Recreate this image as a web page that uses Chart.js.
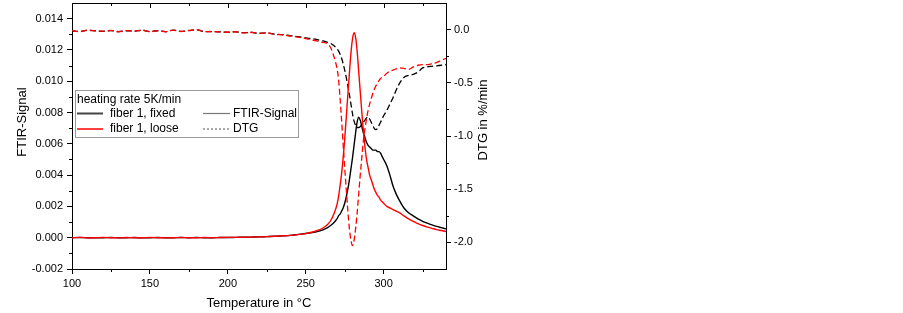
<!DOCTYPE html>
<html>
<head>
<meta charset="utf-8">
<script src="https://cdn.jsdelivr.net/npm/chart.js@4.4.1/dist/chart.umd.min.js"></script>
<style>
body { margin: 0; background: #fff; }
canvas { display: block; }
</style>
</head>
<body>
<canvas id="chart" width="903" height="313"></canvas>
<script>
// temperature in °C
const temperatures = [100,105,110,115,120,125,130,135,140,145,150,155,160,165,170,175,180,185,190,195,200,205,210,215,220,225,230,235,240,245,250,
    255,258,261,264,266,268,
    270,271,272,273,274,275,276,277,278,279,280,281,282,283,284,285,286,287,288,289,290,291,292,293,294,295,296,297,298,299,300,
    302,304,306,308,310,
    313,316,319,322,325,328,331,334,337,340]

// FTIR signal
const ftirFixed = [0,0.00001,0,-0.00001,0,0.00001,0,0,0.00001,-0.00001,0,0.00001,0,0,0.00001,0,0.00001,0,0,0.00001,0.00001,
    0.00002,0.00003,0.00004,0.00005,0.00007,0.00009,0.00012,0.00015,0.00021,0.00027,
    0.00034,0.0004,0.0005,0.00065,0.00078,0.00095,
    0.0012,0.0014,0.0015,0.0017,0.0019,0.0022,0.0026,0.0031,0.0037,0.0044,0.0051,0.0059,0.0067,0.0074,0.0077,0.0075,0.0071,0.0067,0.0064,0.0061,0.0059,0.0058,0.0057,0.0056,0.0056,0.0056,0.0055,0.0055,0.0054,0.0052,0.0050,
    0.0046,0.0040,0.0033,0.0028,0.0024,
    0.0019,0.0016,0.0014,0.0012,0.00105,0.00093,0.00082,0.00072,0.00064,0.00056]

const ftirLoose = [0,0.00002,-0.00001,0,0.00001,0,-0.00001,0.00001,0,0,0.00001,0,-0.00001,0,0.00001,0,0,0.00001,0,0.00001,0.00002,
    0.00002,0.00003,0.00004,0.00005,0.00007,0.00009,0.00012,0.00015,0.0002,0.00026,
    0.00038,0.00048,0.00062,0.00085,0.0011,0.0015,
    0.0021,0.0026,0.0033,0.0041,0.0051,0.0063,0.0077,0.0091,0.0105,0.0118,0.0127,0.0131,0.0128,0.0119,0.0106,0.0093,0.0080,0.0068,0.0058,0.0050,0.0045,0.0040,0.0037,0.0034,0.0031,0.0029,0.0027,0.0026,0.0024,0.0023,0.0022,
    0.0020,0.0019,0.0018,0.0017,0.0016,
    0.0014,0.0012,0.00105,0.0009,0.00078,0.00068,0.0006,0.00052,0.00046,0.0004]

// DTG in %/min
const dtgFixed = [-0.012,-0.018,-0.007,-0.011,-0.016,-0.009,-0.019,-0.011,-0.014,-0.006,-0.019,-0.011,-0.019,-0.005,-0.017,-0.009,-0.002,-0.019,-0.019,-0.021,-0.024,-0.021,-0.029,-0.026,-0.034,-0.031,-0.042,-0.047,-0.057,-0.066,-0.078,
    -0.088,-0.097,-0.107,-0.12,-0.13,-0.15,
    -0.18,-0.2,-0.23,-0.27,-0.32,-0.38,-0.45,-0.53,-0.61,-0.7,-0.79,-0.86,-0.9,-0.92,-0.92,-0.91,-0.89,-0.87,-0.85,-0.83,-0.82,-0.84,-0.87,-0.9,-0.93,-0.94,-0.93,-0.9,-0.87,-0.84,-0.81,
    -0.76,-0.7,-0.64,-0.57,-0.51,
    -0.45,-0.43,-0.42,-0.4,-0.36,-0.35,-0.345,-0.34,-0.335,-0.33]

const dtgLoose = [-0.01,-0.02,-0.005,-0.012,-0.015,-0.008,-0.02,-0.01,-0.015,-0.005,-0.02,-0.01,-0.02,-0.004,-0.018,-0.008,0,-0.02,-0.018,-0.022,-0.025,-0.02,-0.03,-0.025,-0.035,-0.03,-0.045,-0.05,-0.06,-0.07,-0.085,
    -0.1,-0.11,-0.12,-0.13,-0.17,-0.25,
    -0.36,-0.46,-0.64,-0.85,-1.08,-1.3,-1.5,-1.7,-1.87,-1.98,-2.03,-1.98,-1.87,-1.72,-1.54,-1.36,-1.2,-1.04,-0.93,-0.84,-0.76,-0.7,-0.65,-0.6,-0.56,-0.53,-0.5,-0.48,-0.46,-0.45,-0.44,
    -0.41,-0.39,-0.38,-0.37,-0.36,
    -0.365,-0.375,-0.35,-0.335,-0.33,-0.33,-0.32,-0.31,-0.29,-0.27]

const xTicks = [100, 150, 200, 250, 300]
const xMinorTicks = [125, 175, 225, 275, 325]
const ftirTicks = [-0.002, 0, 0.002, 0.004, 0.006, 0.008, 0.01, 0.012, 0.014]
const ftirMinorTicks = [-0.001, 0.001, 0.003, 0.005, 0.007, 0.009, 0.011, 0.013]
const dtgTicks = [-2, -1.5, -1, -0.5, 0]
const dtgMinorTicks = [-1.75, -1.25, -0.75, -0.25]

const RED = "#ff0000"
const FONT = "'Liberation Sans', Arial, sans-serif"

Chart.defaults.font.family = FONT
Chart.defaults.color = "#000"

const toPoints = ys => temperatures.map((t, i) => ({ x: t, y: ys[i] }))
const setTicks = values => scale => { scale.ticks = values.map(v => ({ value: v })) }
const fixSize = (w, h) => s => {
    if (w) s.width = w
    if (h) s.height = h
    s.paddingTop = 0
    s.paddingBottom = 0
    s.paddingLeft = 0
    s.paddingRight = 0
}

// minor ticks, top frame line and its ticks, axis titles
const frame = {
    id: "frame",
    afterDraw(chart) {
        const ctx = chart.ctx
        const { left, right, top, bottom } = chart.chartArea
        const sx = chart.scales.x, sy = chart.scales.y, sy2 = chart.scales.y2
        ctx.save()
        ctx.strokeStyle = "#000"
        ctx.lineWidth = 1
        ctx.beginPath()
        ctx.moveTo(left, Math.round(top) + 0.5)
        ctx.lineTo(right, Math.round(top) + 0.5)
        xMinorTicks.forEach(v => {
            const px = Math.round(sx.getPixelForValue(v)) + 0.5
            ctx.moveTo(px, bottom); ctx.lineTo(px, bottom + 3)
            ctx.moveTo(px, top); ctx.lineTo(px, top + 3)
        })
        xTicks.forEach(v => {
            const px = Math.round(sx.getPixelForValue(v)) + 0.5
            ctx.moveTo(px, top); ctx.lineTo(px, top + 5)
        })
        ftirMinorTicks.forEach(v => {
            const py = Math.round(sy.getPixelForValue(v)) + 0.5
            ctx.moveTo(left, py); ctx.lineTo(left - 3, py)
        })
        dtgMinorTicks.forEach(v => {
            const py = Math.round(sy2.getPixelForValue(v)) + 0.5
            ctx.moveTo(right, py); ctx.lineTo(right + 3, py)
        })
        ctx.stroke()

        ctx.fillStyle = "#000"
        ctx.font = "13px " + FONT
        ctx.textAlign = "center"
        ctx.textBaseline = "middle"
        ctx.translate(22, 122)
        ctx.rotate(-Math.PI / 2)
        ctx.fillText("FTIR-Signal", 0, 0)
        ctx.rotate(Math.PI / 2)
        ctx.translate(483 - 22, 120 - 122)
        ctx.rotate(-Math.PI / 2)
        ctx.fillText("DTG in %/min", 0, 0)
        ctx.restore()
    }
}

const legendBox = {
    id: "legendBox",
    afterDraw(chart) {
        const ctx = chart.ctx
        ctx.save()
        ctx.fillStyle = "#fff"
        ctx.strokeStyle = "#9a9a9a"
        ctx.lineWidth = 1
        ctx.fillRect(75.5, 90.5, 223, 47)
        ctx.strokeRect(75.5, 90.5, 223, 47)

        ctx.fillStyle = "#000"
        ctx.font = "12px " + FONT
        ctx.textBaseline = "middle"
        ctx.fillText("heating rate 5K/min", 77, 99.5)
        ctx.fillText("fiber 1, fixed", 110, 113.5)
        ctx.fillText("fiber 1, loose", 110, 128.5)
        ctx.fillText("FTIR-Signal", 233, 113.5)
        ctx.fillText("DTG", 233, 128.5)

        const sample = (x1, x2, y, color, width, dash) => {
            ctx.beginPath()
            ctx.setLineDash(dash)
            ctx.strokeStyle = color
            ctx.lineWidth = width
            ctx.moveTo(x1, y)
            ctx.lineTo(x2, y)
            ctx.stroke()
        }
        sample(77, 103, 113.5, "#444", 2, [])
        sample(77, 103, 129, RED, 1.5, [])
        sample(203, 230, 113.5, "#777", 1.2, [])
        sample(203, 230, 129, "#555", 1, [2, 2])
        ctx.restore()
    }
}

// lower "order" is drawn on top, so the red runs sit above the black ones
new Chart(document.getElementById("chart"), {
    type: "line",
    data: {
        datasets: [{
            label: "fiber 1, fixed FTIR",
            data: toPoints(ftirFixed),
            yAxisID: "y",
            borderColor: "#000",
            borderWidth: 1.4,
            order: 2
        }, {
            label: "fiber 1, loose FTIR",
            data: toPoints(ftirLoose),
            yAxisID: "y",
            borderColor: RED,
            borderWidth: 1.4,
            order: 1
        }, {
            label: "fiber 1, fixed DTG",
            data: toPoints(dtgFixed),
            yAxisID: "y2",
            borderColor: "#000",
            borderWidth: 1.3,
            borderDash: [6, 3],
            order: 2
        }, {
            label: "fiber 1, loose DTG",
            data: toPoints(dtgLoose),
            yAxisID: "y2",
            borderColor: RED,
            borderWidth: 1.3,
            borderDash: [6, 3],
            order: 1
        }]
    },
    options: {
        responsive: false,
        animation: false,
        events: [],
        elements: {
            point: { radius: 0 },
            line: { cubicInterpolationMode: "monotone", fill: false }
        },
        layout: { padding: { top: 3, right: 397, bottom: 0, left: 0 } },
        plugins: {
            legend: { display: false },
            tooltip: { enabled: false }
        },
        scales: {
            x: {
                type: "linear",
                min: 100,
                max: 340,
                afterBuildTicks: setTicks(xTicks),
                afterFit: fixSize(0, 44),
                grid: { drawOnChartArea: false, tickLength: 5, color: "#000" },
                border: { color: "#000", width: 1 },
                ticks: { font: { size: 11 }, padding: 3, maxRotation: 0, callback: v => v },
                title: { display: true, text: "Temperature in °C", font: { size: 13 }, padding: { top: 2, bottom: 2 } }
            },
            y: {
                position: "left",
                min: -0.002,
                max: 0.015,
                afterBuildTicks: setTicks(ftirTicks),
                afterFit: fixSize(72, 0),
                grid: { drawOnChartArea: false, tickLength: 5, color: "#000" },
                border: { color: "#000", width: 1 },
                ticks: { font: { size: 11 }, padding: 4, callback: v => v.toFixed(3) }
            },
            y2: {
                position: "right",
                min: -2.25,
                max: 0.25,
                afterBuildTicks: setTicks(dtgTicks),
                afterFit: fixSize(60, 0),
                grid: { drawOnChartArea: false, tickLength: 5, color: "#000" },
                border: { color: "#000", width: 1 },
                ticks: { font: { size: 11 }, padding: 3, callback: v => v.toFixed(1) }
            }
        }
    },
    plugins: [frame, legendBox]
})
</script>
</body>
</html>
